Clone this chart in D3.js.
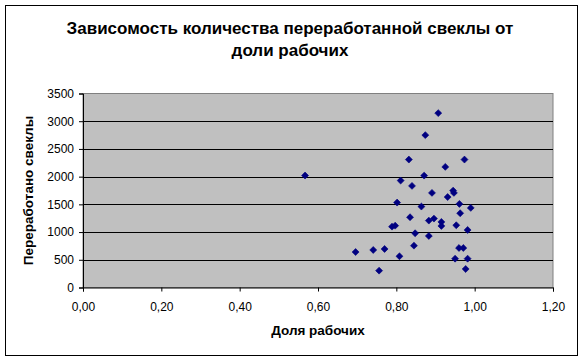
<!DOCTYPE html>
<html><head><meta charset="utf-8">
<script src="https://cdn.jsdelivr.net/npm/d3@7"></script>
<style>body{margin:0;background:#fff;} svg{display:block;font-family:"Liberation Sans",Arial,sans-serif;}</style>
</head><body>
<script>
const title = ["Зависомость количества переработанной свеклы от", "доли рабочих"];
const xTitle = "Доля рабочих";
const yTitle = "Переработано свеклы";
const xTicks = [0, 0.2, 0.4, 0.6, 0.8, 1.0, 1.2];
const yTicks = [0, 500, 1000, 1500, 2000, 2500, 3000, 3500];
const shareWorkers = [0.567,0.696,0.741,0.756,0.770,0.789,0.797,0.802,0.808,0.811,0.832,0.835,0.840,0.845,0.848,0.864,0.871,0.874,0.883,0.883,0.891,0.896,0.907,0.915,0.915,0.925,0.931,0.945,0.947,0.950,0.953,0.960,0.961,0.963,0.971,0.974,0.977,0.982,0.982,0.990];
const beetProcessed = [2020,640,677,304,695,1098,1116,1532,563,1929,2308,1268,1833,755,979,1460,2019,2749,1207,930,1707,1243,3146,1183,1111,2176,1632,1748,1707,520,1123,713,1508,1340,713,2308,334,1038,520,1436];

const W = 583, H = 361;
const svg = d3.select("body").append("svg").attr("width", W).attr("height", H);
svg.append("rect").attr("x",5.5).attr("y",5.5).attr("width",572).attr("height",350)
  .attr("fill","#fff").attr("stroke","#000").attr("stroke-width",1);

const L = 83, R = 553, T = 93.5, B = 287.5;
const x = d3.scaleLinear().domain([0,1.2]).range([L,R]);
const y = d3.scaleLinear().domain([0,3500]).range([B,T]);

svg.append("rect").attr("x",L).attr("y",T).attr("width",R-L).attr("height",B-T)
  .attr("fill","#c0c0c0").attr("stroke","#808080").attr("stroke-width",1);

svg.append("g").selectAll("line").data(yTicks.filter(d=>d>0 && d<3500)).join("line")
  .attr("x1",L).attr("x2",R).attr("y1",d=>Math.round(y(d))+0.5).attr("y2",d=>Math.round(y(d))+0.5)
  .attr("stroke","#000").attr("stroke-width",1);

const fmt = d => d3.format(".2f")(d).replace(".", ",");
const xAxis = svg.append("g").attr("transform",`translate(0,${B})`)
  .call(d3.axisBottom(x).tickValues(xTicks).tickFormat(fmt).tickSize(4).tickPadding(11));
const yAxis = svg.append("g").attr("transform",`translate(${L},0)`)
  .call(d3.axisLeft(y).tickValues(yTicks).tickFormat(d3.format("d")).tickSize(4).tickPadding(5));
[xAxis,yAxis].forEach(g=>{
  g.select(".domain").attr("stroke","#000");
  g.selectAll(".tick line").attr("stroke","#000");
  g.selectAll("text").attr("fill","#000").style("font-size","12px").style("font-family","'Liberation Sans',Arial,sans-serif");
});

const diamond = d3.symbol().type(d3.symbolSquare).size(24);
svg.append("g").selectAll("path").data(shareWorkers.map((v,i)=>[v,beetProcessed[i]])).join("path")
  .attr("d",diamond).attr("transform",d=>`translate(${x(d[0])},${y(d[1])}) rotate(45)`)
  .attr("fill","#000080").attr("stroke","#000080").attr("stroke-width",0.6);

svg.append("text").attr("x",290).attr("y",34).attr("text-anchor","middle")
  .style("font-size","17px").style("font-weight","bold").text(title[0]);
svg.append("text").attr("x",290).attr("y",56).attr("text-anchor","middle")
  .style("font-size","17px").style("font-weight","bold").text(title[1]);
svg.append("text").attr("x",(L+R)/2).attr("y",335).attr("text-anchor","middle")
  .style("font-size","13.5px").style("font-weight","bold").text(xTitle);
svg.append("text").attr("transform",`translate(33,${(T+B)/2}) rotate(-90)`).attr("text-anchor","middle")
  .style("font-size","13.5px").style("font-weight","bold").text(yTitle);
</script>
</body></html>
